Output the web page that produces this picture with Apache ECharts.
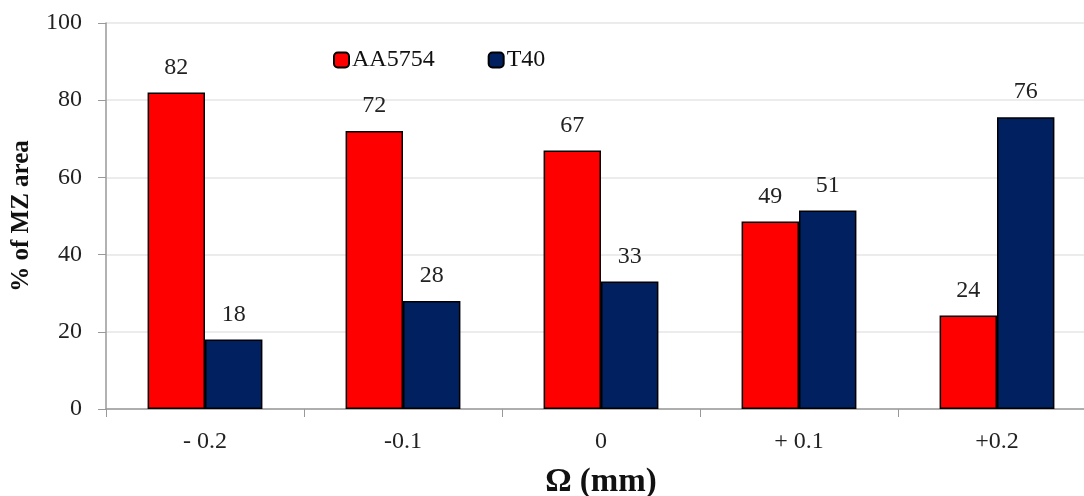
<!DOCTYPE html>
<html><head><meta charset="utf-8">
<script src="https://cdn.jsdelivr.net/npm/echarts@6/dist/echarts.min.js"></script>
<style>html,body{margin:0;padding:0;background:#fff;overflow:hidden}#c{width:1096px;height:496px}</style>
</head><body><div id="c"></div>
<script>
const categories = ['- 0.2', '-0.1', '0', '+ 0.1', '+0.2'];
const aa5754 = [82, 72, 67, 48.6, 24.2];
const t40 = [18, 28, 33, 51.4, 75.6];
const yTicks = [0, 20, 40, 60, 80, 100];

const font = '"Liberation Serif", "Times New Roman", serif';
const chart = echarts.init(document.getElementById('c'));
const lbl = {
  show: true, position: 'top', distance: 13,
  fontFamily: font, fontSize: 24, color: '#222',
  formatter: p => Math.round(p.value)
};
chart.setOption({
  animation: false,
  grid: { left: 106, right: 0, top: 23, bottom: 87, containLabel: false, outerBoundsMode: 'none' },
  legend: {
    left: 328, top: 43, itemWidth: 15, itemHeight: 15, itemGap: 53,
    textStyle: { fontFamily: font, fontSize: 24, color: '#111', padding: [0, 0, 0, -2] },
    data: ['AA5754', 'T40']
  },
  xAxis: {
    type: 'category', data: categories,
    name: 'Ω (mm)', nameLocation: 'middle', nameGap: 57,
    nameTextStyle: { fontFamily: font, fontSize: 33, fontWeight: 'bold', color: '#111' },
    axisLine: { lineStyle: { color: '#999', width: 1.5 } },
    axisTick: { show: true, length: 8, lineStyle: { color: '#999' } },
    axisLabel: { fontFamily: font, fontSize: 24, color: '#222', margin: 21 }
  },
  yAxis: {
    type: 'value', min: 0, max: 100, interval: 20,
    name: '% of MZ area', nameLocation: 'middle', nameGap: 72, nameRotate: 90,
    nameTextStyle: { fontFamily: font, fontSize: 25, fontWeight: 'bold', color: '#111' },
    axisLine: { show: true, lineStyle: { color: '#999', width: 1.5 } },
    axisTick: { show: true, length: 8, inside: false, lineStyle: { color: '#999' } },
    splitLine: { lineStyle: { color: '#e6e6e6', width: 1.5 } },
    axisLabel: { fontFamily: font, fontSize: 24, color: '#222', margin: 24,
      formatter: v => yTicks.includes(v) ? String(v) : '' }
  },
  series: [
    { name: 'AA5754', type: 'bar', data: aa5754, barGap: '0%', barCategoryGap: '42%',
      itemStyle: { color: '#ff0000', borderColor: '#000', borderWidth: 1.5 }, label: lbl },
    { name: 'T40', type: 'bar', data: t40,
      itemStyle: { color: '#002060', borderColor: '#000', borderWidth: 1.5 }, label: lbl }
  ]
});
</script></body></html>
